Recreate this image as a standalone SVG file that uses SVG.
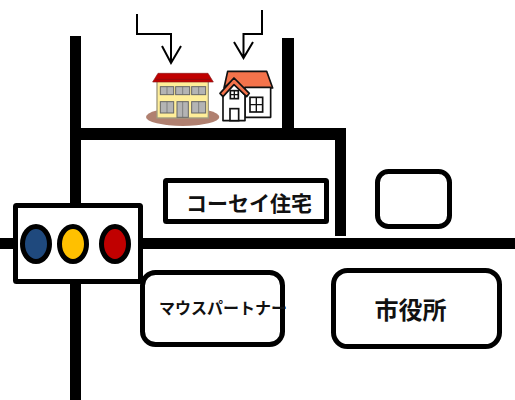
<svg xmlns="http://www.w3.org/2000/svg" width="515" height="400" viewBox="0 0 515 400">
<style>
.road{fill:#000}
.box{fill:#fff;stroke:#000;stroke-width:5}
.lamp{stroke:#000;stroke-width:5}
.label{font-family:"Noto Sans CJK JP",sans-serif;font-weight:700;fill:#111;text-anchor:middle;dominant-baseline:central}
.arrow{fill:none;stroke:#000;stroke-width:2}
.ol{stroke:#111;stroke-width:5;stroke-linejoin:round}
</style>
<rect width="515" height="400" fill="#fff"/>
<g id="connectors">
<rect class="road" x="70" y="36" width="11" height="364"/>
<rect class="road" x="75" y="128" width="271" height="12"/>
<rect class="road" x="282" y="38" width="12" height="92"/>
<rect class="road" x="335" y="130" width="11" height="106"/>
<rect class="road" x="0" y="238" width="515" height="11"/>
<path class="arrow" d="M137 14V34H171V63M162 46L171 63L181 46"/>
<path class="arrow" d="M262 10V34H243.500V58M234 42L243.500 58L253 42"/>
</g>
<g id="school" transform="translate(130 0) scale(.3333)">
<ellipse cx="158" cy="351" rx="110" ry="27" fill="#b08070"/>
<rect x="81" y="244" width="154" height="110" fill="#ffee99" stroke="#a09a80" stroke-width="4"/>
<path d="M68 246L84 220H234L250 246Z" fill="#c00000" stroke="#8a1a1a" stroke-width="2"/>
<path d="M76 238H242" stroke="#7a1010" stroke-width="2"/>
<g fill="#b4b4b4" stroke="#666" stroke-width="3">
<rect x="91" y="260" width="40" height="24"/><rect x="137" y="260" width="42" height="24"/><rect x="185" y="260" width="42" height="24"/>
<rect x="91" y="305" width="40" height="34"/><rect x="141" y="305" width="34" height="47"/><rect x="185" y="305" width="42" height="34"/>
</g>
<path d="M111 260V284M158 260V284M206 260V284M111 305V339M158 305V352M206 305V339" stroke="#666" stroke-width="2"/>
</g>
<g id="house" transform="translate(130 0) scale(.3333)">
<path class="ol" d="M293 214H410L428 264H340L312 236L282 264Z" fill="#f4734b"/>
<rect class="ol" x="345" y="262" width="77" height="90" fill="#fff"/>
<path class="ol" d="M279 285L312 250L345 285V362H279Z" fill="#fff"/>
<path class="ol" d="M270 280L312 234L358 280L350 290L312 254L279 290Z" fill="#f4734b"/>
<rect x="301" y="272" width="24" height="24" fill="#fff" stroke="#111" stroke-width="5"/>
<path d="M313 272V296M301 284H325" stroke="#111" stroke-width="4"/>
<rect x="360" y="292" width="38" height="44" fill="#fff" stroke="#111" stroke-width="5"/>
<path d="M379 292V336M360 314H398" stroke="#111" stroke-width="4"/>
<rect x="300" y="326" width="26" height="36" fill="#fff" stroke="#111" stroke-width="5"/>
</g>
<g id="signal">
<rect class="box" x="15.500" y="205.500" width="125" height="76" rx="1"/>
<ellipse class="lamp" cx="36" cy="244" rx="13.500" ry="17.500" fill="#1f497d"/>
<ellipse class="lamp" cx="73" cy="244" rx="13.500" ry="17.500" fill="#ffc000"/>
<ellipse class="lamp" cx="115" cy="244" rx="13.500" ry="17.500" fill="#c00000"/>
</g>
<g id="kosei">
<rect class="box" x="165.500" y="180.500" width="161" height="41" rx="1"/>
<text class="label" x="249" y="202" font-size="21">コーセイ住宅</text>
</g>
<g id="blank">
<rect class="box" x="377.500" y="171.500" width="72" height="55" rx="11"/>
</g>
<g id="mouse">
<rect class="box" x="142.500" y="272.500" width="140" height="72" rx="13"/>
<text class="label" x="223" y="307" font-size="16">マウスパートナー</text>
</g>
<g id="cityhall">
<rect class="box" x="333.500" y="270.500" width="166" height="76" rx="14"/>
<text class="label" x="410.500" y="308" font-size="24">市役所</text>
</g>
</svg>
